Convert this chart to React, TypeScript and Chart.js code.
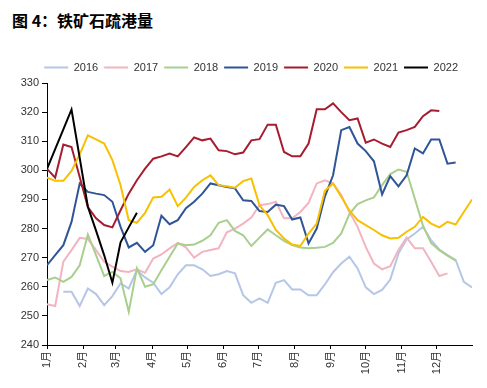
import React, { useEffect, useRef } from 'react';
import { Chart, registerables } from 'chart.js';

Chart.register(...registerables);

// x positions: week index within the year (0..52)
const weeks: number[] = Array.from({ length: 53 }, (_, i) => i);

// month tick positions (in weeks) and labels
const monthTicks = [0, 4.43, 8.43, 12.86, 17.14, 21.57, 25.86, 30.29, 34.71, 39, 43.43, 47.71];
const monthLabels = ['1月', '2月', '3月', '4月', '5月', '6月', '7月', '8月', '9月', '10月', '11月', '12月'];

const yMin = 240;
const yMax = 330;
const yStep = 10;

const seriesNames = ['2016', '2017', '2018', '2019', '2020', '2021', '2022'];
const seriesColors = ['#b5c6e6', '#f2b4c0', '#a8cf8d', '#2f5597', '#a61d30', '#f7c000', '#000000'];

const s2016 = [null, null, 258.3, 258.3, 253.4, 259.4, 257.5, 253.7, 256.8, 261.2, 259.4, 265.7, 263.2, 261.4, 257.5, 259.8, 264.3, 267.4, 267.4, 266, 263.7, 264.3, 265.4, 264.6, 257.1, 254.5, 256, 254.5, 261.4, 262.3, 259.1, 259.1, 257.1, 257.1, 260.8, 265, 268, 270.3, 266.3, 259.8, 257.5, 258.9, 262.5, 271.4, 276.3, 278.3, 280.6, 276, 272.8, 270.9, 269.2, 261.7, 259.8];
const s2017 = [254, 253.4, 268.6, 272.6, 276.8, 276.4, 272.6, 268.6, 266.9, 265.4, 265.1, 266, 264.8, 269.7, 271.1, 273.2, 275.1, 273.5, 270, 272, 272.6, 273.2, 278.7, 280, 281.7, 283.8, 288, 288.4, 289.2, 283.5, 283.5, 285.7, 288.8, 295.5, 296.6, 295.5, 291.5, 285.7, 280.6, 273.7, 268, 266, 267.1, 272.6, 276.9, 273.2, 273.2, 268.6, 263.7, 264.6, null, null, null];
const s2018 = [262.3, 263.2, 261.7, 263.4, 267.4, 278, 270.9, 263.7, 265.1, 262.9, 251.4, 266.3, 260, 260.9, 265.7, 270.3, 274.9, 274.3, 274.5, 275.8, 277.7, 282, 282.9, 279.2, 277.7, 274, 276.9, 279.7, 277.7, 275.8, 274.3, 273.5, 273.2, 273.4, 273.7, 275.1, 278.3, 285, 288.4, 289.7, 290.7, 294.9, 298.7, 300.3, 299.5, 290.3, 281, 275, 272.6, 270.7, 269, null, null];
const s2019 = [267.4, 270.9, 274.3, 282.3, 295.5, 292.6, 292, 291.5, 289.2, 280.6, 273.5, 275.1, 272, 274.3, 284.4, 281.5, 282.9, 287, 289.2, 292, 295.5, 294.9, 294.3, 293.8, 289.7, 289.5, 286, 285.7, 288.2, 287.7, 283.1, 283.8, 274.9, 280, 291, 298.3, 313.8, 314.9, 309.2, 306.6, 303.1, 291.7, 298, 294.5, 298.3, 307.5, 305.8, 310.6, 310.6, 302.3, 302.7, null, null];
const s2020 = [300.5, 297.5, 308.9, 308, 297.7, 287.4, 283.5, 281.2, 280.4, 286.3, 292, 296.6, 300.6, 304, 304.8, 305.8, 304.8, 308, 311.3, 310.3, 310.9, 306.9, 306.6, 305.5, 306.1, 310.3, 310.7, 315.7, 315.7, 306.3, 304.8, 304.8, 309.2, 321, 321, 323, 320, 317.2, 317.8, 309.5, 310.6, 309.2, 308, 313, 313.8, 314.9, 318.6, 320.6, 320.4, null, null, null, null];
const s2021 = [297.5, 296.4, 296.4, 299.8, 305.5, 312, 310.6, 309.2, 303.5, 294.9, 282.9, 282, 285.4, 290.7, 290.9, 293.4, 287.7, 290.6, 294.3, 296.6, 298.3, 294.9, 294.5, 294, 296.3, 297.2, 288, 284.6, 279.5, 276.6, 274.5, 274, 278.3, 281.7, 293, 295.5, 290.9, 286.2, 282.9, 281.2, 279.5, 277.7, 276.6, 276.8, 278.9, 280.6, 284, 281.7, 280.4, 282.3, 281.4, 285.7, 290];
const s2022 = [300.5, 307.3, 314.1, 320.9, 304.3, 287.5, 279.3, 270.8, 261.4, 275.3, 280.4, 285.4];

const allSeries = [s2016, s2017, s2018, s2019, s2020, s2021, s2022];

const FONT_FAMILY = "'Liberation Sans', Arial, 'Noto Sans CJK SC', sans-serif";

export default function App() {
  const canvasRef = useRef<HTMLCanvasElement | null>(null);

  useEffect(() => {
    const canvas = canvasRef.current;
    if (!canvas) return;
    const chart = new Chart(canvas, {
      type: 'line',
      data: {
        labels: weeks,
        datasets: allSeries.map((s, i) => ({
          label: seriesNames[i],
          data: s,
          borderColor: seriesColors[i],
          backgroundColor: seriesColors[i],
          borderWidth: 2,
          pointRadius: 0,
          pointHoverRadius: 0,
          tension: 0,
          fill: false,
          order: seriesNames.length - i,
        })),
      },
      options: {
        responsive: false,
        animation: false,
        devicePixelRatio: 1,
        layout: { padding: { top: 56, left: 17.6, right: 2.4, bottom: 0 } },
        plugins: {
          legend: {
            position: 'top',
            labels: {
              usePointStyle: true,
              pointStyle: 'line',
              pointStyleWidth: 24,
              padding: 6,
              color: '#333',
              font: { size: 11, family: FONT_FAMILY },
              sort: (a: any, b: any) => a.datasetIndex - b.datasetIndex,
            },
          },
          tooltip: { enabled: false },
          title: { display: false },
        },
        scales: {
          x: {
            type: 'linear',
            min: 0,
            max: 52,
            afterBuildTicks: (scale: any) => {
              scale.ticks = monthTicks.map((v) => ({ value: v }));
            },
            afterFit: (scale: any) => {
              scale.height = 43;
            },
            ticks: {
              autoSkip: false,
              minRotation: 90,
              maxRotation: 90,
              padding: 2,
              color: '#333',
              font: { size: 11, family: FONT_FAMILY },
              callback: (v: any) => {
                const idx = monthTicks.indexOf(Number(v));
                return idx >= 0 ? monthLabels[idx] : '';
              },
            },
            grid: { drawOnChartArea: false, drawTicks: true, tickLength: 4, color: '#000' },
            border: { display: true, color: '#000', width: 1 },
          },
          y: {
            position: 'left',
            min: yMin,
            max: yMax,
            afterFit: (scale: any) => {
              scale.width = 29.4;
            },
            ticks: {
              stepSize: yStep,
              padding: 3,
              color: '#333',
              font: { size: 11, family: FONT_FAMILY },
            },
            grid: { drawOnChartArea: false, drawTicks: true, tickLength: 5, color: '#000' },
            border: { display: true, color: '#000', width: 1 },
          },
          yRightSpace: {
            position: 'right',
            display: true,
            afterFit: (scale: any) => {
              scale.width = 12.6;
            },
            ticks: { display: false },
            grid: { display: false },
            border: { display: false },
          },
        },
      } as any,
    });
    return () => chart.destroy();
  }, []);

  return (
    <div style={{ position: 'fixed', left: 0, top: 0, width: 487, height: 388, background: '#fff', overflow: 'hidden' }}>
      <div
        style={{
          position: 'absolute',
          left: 12,
          top: 12,
          fontFamily: "'Noto Sans CJK SC', sans-serif",
          fontWeight: 'bold',
          fontSize: 16,
          lineHeight: '16px',
          whiteSpace: 'nowrap',
          color: '#000',
        }}
      >
        图 4：铁矿石疏港量
      </div>
      <canvas
        ref={canvasRef}
        width={487}
        height={388}
        style={{ position: 'absolute', left: 0, top: 0, width: 487, height: 388 }}
      />
    </div>
  );
}
